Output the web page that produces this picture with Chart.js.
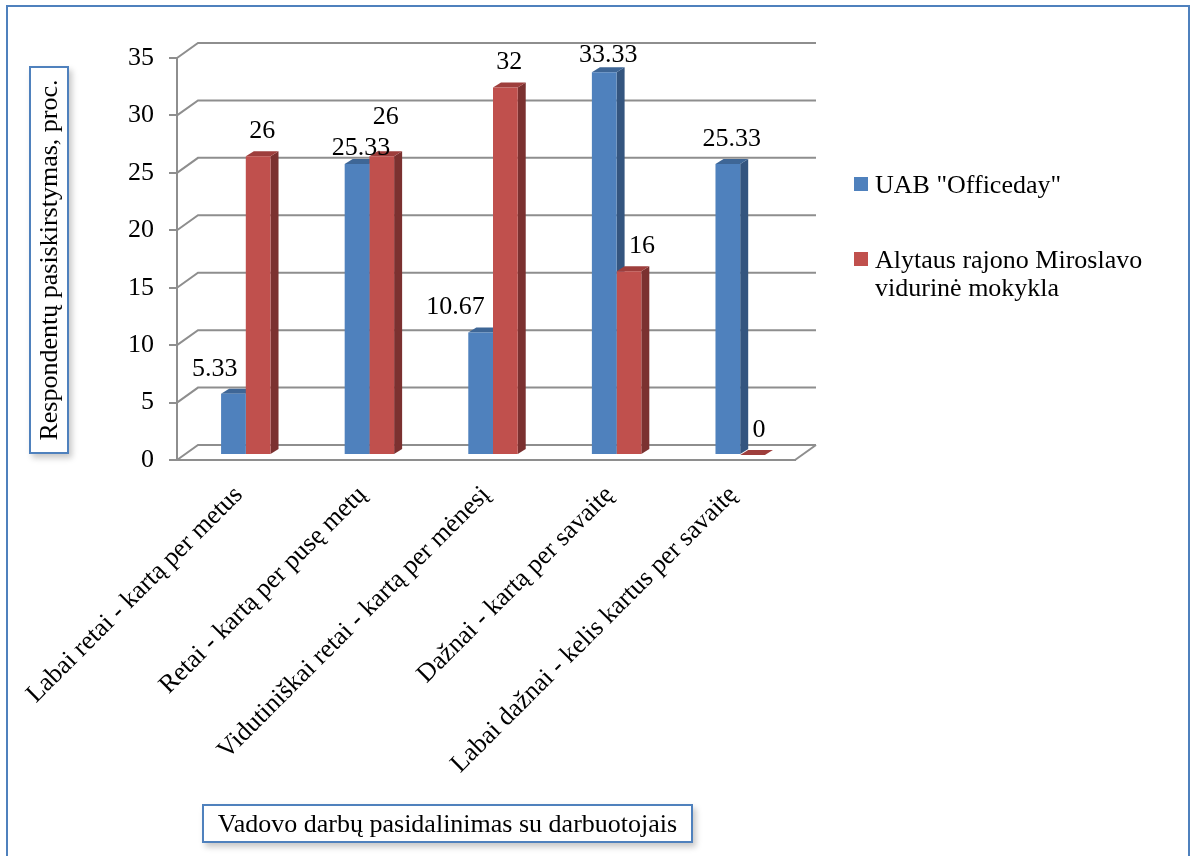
<!DOCTYPE html>
<html>
<head>
<meta charset="utf-8">
<script src="https://cdn.jsdelivr.net/npm/chart.js@4.4.1/dist/chart.umd.min.js"></script>
<style>
  html, body { margin: 0; padding: 0; background: #fff; }
  #wrap { position: relative; width: 1192px; height: 856px; overflow: hidden;
          font-family: "Liberation Serif", "Times New Roman", serif; color: #000; }
  #chart { position: absolute; left: 0; top: 0; }
  .frame { position: absolute; left: 6px; top: 5px; width: 1180px; height: 900px;
           border: 2px solid #4F81BD; }
  .boxed { position: absolute; background: #fff; border: 2px solid #4F81BD;
           box-shadow: 3px 4px 6px rgba(0, 0, 0, 0.22); box-sizing: border-box; }
  .ytitle { left: 29px; top: 66px; width: 40px; height: 388px; }
  .ytitle span { position: absolute; left: 50%; top: 50%; white-space: nowrap; font-size: 26px;
                 transform: translate(-50%, -50%) rotate(-90deg); }
  .xtitle { left: 202px; top: 804px; width: 491px; height: 39px; font-size: 26px;
            line-height: 35px; text-align: center; white-space: nowrap; }
  .legend { position: absolute; left: 854px; top: 171px; font-size: 26px; line-height: 28px; }
  .legend .item { position: relative; padding-left: 21px; width: 285px; margin-bottom: 47px; }
  .legend .sw { position: absolute; left: 0; top: 6px; width: 14px; height: 14px; }
</style>
</head>
<body>
<div id="wrap">
  <div class="frame"></div>
  <canvas id="chart" width="1192" height="856"></canvas>
  <div class="boxed ytitle"><span>Respondentų pasiskirstymas, proc.</span></div>
  <div class="boxed xtitle">Vadovo darbų pasidalinimas su darbuotojais</div>
  <div class="legend" id="legend"></div>
</div>
<script>
  var categories = [
    "Labai retai - kartą per metus",
    "Retai - kartą per pusę metų",
    "Vidutiniškai retai - kartą per mėnesį",
    "Dažnai - kartą per savaitę",
    "Labai dažnai - kelis kartus per savaitę"
  ];
  var seriesNames = ['UAB "Officeday"', "Alytaus rajono Miroslavo vidurinė mokykla"];
  var officeday = [5.33, 25.33, 10.67, 33.33, 25.33];
  var miroslavo = [26, 26, 32, 16, 0];
  var yTickValues = [0, 5, 10, 15, 20, 25, 30, 35];

  var FRONT = ["#4F81BD", "#C0504D"];
  var SIDE = ["#34557F", "#7B3130"];
  var TOP = ["#3E6696", "#9E3E3C"];
  var GRID = "#8E8E8E";
  var FONT = "'Liberation Serif', 'Times New Roman', serif";

  // fake 3D: back wall sits DEPTH behind the front axis, bars a third of the way in
  var DEPTH_X = 21, DEPTH_Y = -15;
  var SHIFT_X = 7, SHIFT_Y = -5;
  var SIDE_X = 8, SIDE_Y = -5;

  var legendEl = document.getElementById("legend");
  legendEl.innerHTML = seriesNames.map(function (n, i) {
    return '<div class="item"><span class="sw" style="background:' + FRONT[i] + '"></span>' +
      n.replace(/&/g, "&amp;").replace(/</g, "&lt;") + "</div>";
  }).join("");

  function poly(ctx, pts, color) {
    ctx.beginPath();
    ctx.moveTo(pts[0][0], pts[0][1]);
    for (var i = 1; i < pts.length; i++) ctx.lineTo(pts[i][0], pts[i][1]);
    ctx.closePath();
    ctx.fillStyle = color;
    ctx.fill();
  }

  var threeD = {
    id: "threeD",
    beforeDatasetsDraw: function (chart) {
      var ctx = chart.ctx, y = chart.scales.y, a = chart.chartArea;
      ctx.save();
      ctx.strokeStyle = GRID;
      ctx.lineWidth = 2;
      y.ticks.forEach(function (t) {
        var py = y.getPixelForValue(t.value);
        ctx.beginPath();
        ctx.moveTo(a.left, py);
        ctx.lineTo(a.left + DEPTH_X, py + DEPTH_Y);
        ctx.lineTo(a.right + DEPTH_X, py + DEPTH_Y);
        ctx.stroke();
      });
      var p0 = y.getPixelForValue(0);
      ctx.beginPath();
      ctx.moveTo(a.right, p0);
      ctx.lineTo(a.right + DEPTH_X, p0 + DEPTH_Y);
      ctx.stroke();
      ctx.restore();

      // bars: sides and tops here, the library draws the front faces after
      ctx.save();
      ctx.translate(SHIFT_X, SHIFT_Y);
      chart.data.datasets.forEach(function (ds, di) {
        var meta = chart.getDatasetMeta(di);
        meta.data.forEach(function (el) {
          var p = el.getProps(["x", "y", "base", "width"], true);
          var xl = p.x - p.width / 2, xr = p.x + p.width / 2;
          poly(ctx, [[xr, p.y], [xr + SIDE_X, p.y + SIDE_Y], [xr + SIDE_X, p.base + SIDE_Y], [xr, p.base]], SIDE[di]);
          poly(ctx, [[xl, p.y], [xr, p.y], [xr + SIDE_X, p.y + SIDE_Y], [xl + SIDE_X, p.y + SIDE_Y]], TOP[di]);
        });
      });
    },
    afterDatasetsDraw: function (chart) {
      var ctx = chart.ctx;
      ctx.restore();
      var sets = chart.data.datasets;
      ctx.save();
      ctx.font = "26px " + FONT;
      ctx.fillStyle = "#000";
      ctx.textBaseline = "middle";
      sets.forEach(function (ds, di) {
        var meta = chart.getDatasetMeta(di);
        var other = sets[1 - di].data;
        meta.data.forEach(function (el, i) {
          var p = el.getProps(["x", "y"], true);
          var v = ds.data[i];
          var cx = p.x + SHIFT_X + SIDE_X / 2;
          var cy = p.y + SHIFT_Y + SIDE_Y - 20;
          ctx.textAlign = "center";
          if (other[i] > v + 5) {
            // taller neighbour: push the label away from it
            ctx.textAlign = di === 0 ? "right" : "left";
            cx = di === 0 ? p.x + SHIFT_X + 4 : p.x + SHIFT_X;
          } else if (Math.abs(other[i] - v) <= 5) {
            // near-equal pair: stagger the two labels
            cy += di === 0 ? 9 : -14;
          }
          ctx.fillText(String(v), cx, Math.max(cy, chart.chartArea.top - 3));
        });
      });
      ctx.restore();
    }
  };

  Chart.defaults.font.family = FONT;
  Chart.defaults.font.size = 26;
  Chart.defaults.color = "#000";

  new Chart(document.getElementById("chart"), {
    type: "bar",
    data: {
      labels: categories,
      datasets: [
        { label: seriesNames[0], data: officeday, backgroundColor: FRONT[0] },
        { label: seriesNames[1], data: miroslavo, backgroundColor: FRONT[1] }
      ]
    },
    options: {
      responsive: false,
      animation: false,
      layout: { padding: { left: 0, top: 58, right: 397, bottom: 0 } },
      datasets: { bar: { categoryPercentage: 0.4, barPercentage: 1.0, clip: false } },
      plugins: { legend: { display: false }, tooltip: { enabled: false } },
      scales: {
        x: {
          offset: true,
          grid: { display: false, drawTicks: false },
          border: { display: true, color: GRID, width: 2 },
          ticks: { autoSkip: false, minRotation: 45, maxRotation: 45, padding: 20, color: "#000" },
          afterFit: function (s) { s.height = 396; s.paddingLeft = 0; s.paddingRight = 0; }
        },
        y: {
          min: 0,
          max: 35,
          afterBuildTicks: function (s) { s.ticks = yTickValues.map(function (v) { return { value: v }; }); },
          ticks: { padding: 15, color: "#000" },
          grid: { drawOnChartArea: false, drawTicks: true, tickLength: 8, color: GRID, lineWidth: 2 },
          border: { color: GRID, width: 2 },
          afterFit: function (s) { s.width = 177; }
        }
      }
    },
    plugins: [threeD]
  });
</script>
</body>
</html>
